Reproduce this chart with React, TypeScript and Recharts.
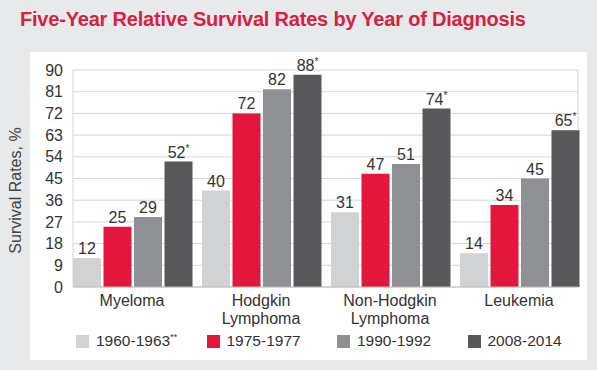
import React from "react";
import { BarChart, Bar, XAxis, YAxis, CartesianGrid, LabelList } from "recharts";

const categories = ["Myeloma", "Hodgkin\nLymphoma", "Non-Hodgkin\nLymphoma", "Leukemia"];
const s1960 = [12, 40, 31, 14];
const s1975 = [25, 72, 47, 34];
const s1990 = [29, 82, 51, 45];
const s2008 = [52, 88, 74, 65];
const starred = ["2008-2014"];
const yTicks = [0, 9, 18, 27, 36, 45, 54, 63, 72, 81, 90];

const SERIES = [
  { key: "1960-1963", sup: "**", color: "#d1d2d4", values: s1960 },
  { key: "1975-1977", sup: "", color: "#e3173b", values: s1975 },
  { key: "1990-1992", sup: "", color: "#8f9093", values: s1990 },
  { key: "2008-2014", sup: "", color: "#58585b", values: s2008 },
];

const data = categories.map((name, i) => {
  const row: Record<string, string | number> = { name };
  SERIES.forEach((s) => (row[s.key] = s.values[i]));
  return row;
});

const FONT = "'Liberation Sans', Arial, Helvetica, sans-serif";
const TXT = "#333333";

function CatTick(props: any) {
  const { x, y, payload } = props;
  const lines = String(payload.value).split("\n");
  return (
    <text x={x} y={y} textAnchor="middle" fill={TXT} fontSize={16} fontFamily={FONT}>
      {lines.map((l, i) => (
        <tspan key={i} x={x} dy={i === 0 ? 11 : 18}>
          {l}
        </tspan>
      ))}
    </text>
  );
}

function valueLabel(star: boolean) {
  return (props: any) => {
    const { x, y, width, value } = props;
    return (
      <text x={x + width / 2} y={y - 4} textAnchor="middle" fill={TXT} fontSize={16} fontFamily={FONT}>
        {value}
        {star && (
          <tspan fontSize={10} dy={-6}>
            *
          </tspan>
        )}
      </text>
    );
  };
}

function YLabel(props: any) {
  const { viewBox } = props;
  const cx = 15;
  const cy = viewBox.y + viewBox.height / 2 + 12;
  return (
    <text x={cx} y={cy} transform={`rotate(-90 ${cx} ${cy})`} textAnchor="middle" dominantBaseline="central" fill="#444" fontSize={16} fontFamily={FONT}>
      Survival Rates, %
    </text>
  );
}

export default function App() {
  return (
    <div style={{ position: "fixed", left: 0, top: 0, width: 597, height: 370, background: "#e8e9eb", fontFamily: FONT, overflow: "hidden" }}>
      <div style={{ position: "absolute", left: 20, top: 8, fontSize: 20, fontWeight: 700, color: "#d8203f", letterSpacing: -0.2, whiteSpace: "nowrap" }}>
        Five-Year Relative Survival Rates by Year of Diagnosis
      </div>
      <div style={{ position: "absolute", left: 30, top: 52, width: 557, height: 308, background: "#ffffff" }} />
      <div style={{ position: "absolute", left: 0, top: 0 }}>
        <BarChart
          width={597}
          height={370}
          data={data}
          margin={{ top: 70, right: 19, left: 13, bottom: 43 }}
          barCategoryGap={5.5}
          barGap={2.5}
        >
          <CartesianGrid
            stroke="#d6d6d6"
            verticalCoordinatesGenerator={({ offset }: any) => [offset.left, offset.left + offset.width]}
          />
          <XAxis
            dataKey="name"
            tick={<CatTick />}
            tickLine={false}
            axisLine={{ stroke: "#bdbdbd" }}
            interval={0}
            height={40}
            padding={{ left: -5.5, right: -5.5 }}
          />
          <YAxis
            domain={[0, 90]}
            ticks={yTicks}
            interval={0}
            width={60}
            tickLine={false}
            axisLine={false}
            tickSize={0}
            tickMargin={10}
            tick={{ fill: TXT, fontSize: 16, fontFamily: FONT }}
            label={<YLabel />}
          />
          {SERIES.map((s) => (
            <Bar key={s.key} dataKey={s.key} fill={s.color} isAnimationActive={false}>
              <LabelList dataKey={s.key} content={valueLabel(starred.includes(s.key))} />
            </Bar>
          ))}
        </BarChart>
      </div>
      {SERIES.map((s, i) => (
        <div
          key={s.key}
          style={{ position: "absolute", left: 76 + i * 130.5, top: 332, display: "flex", alignItems: "center", fontSize: 15.5, color: TXT, whiteSpace: "nowrap" }}
        >
          <span style={{ display: "inline-block", width: 13, height: 13, background: s.color, marginRight: 7 }} />
          <span>
            {s.key}
            {s.sup && <sup style={{ fontSize: 9, verticalAlign: "6px" }}>{s.sup}</sup>}
          </span>
        </div>
      ))}
    </div>
  );
}
